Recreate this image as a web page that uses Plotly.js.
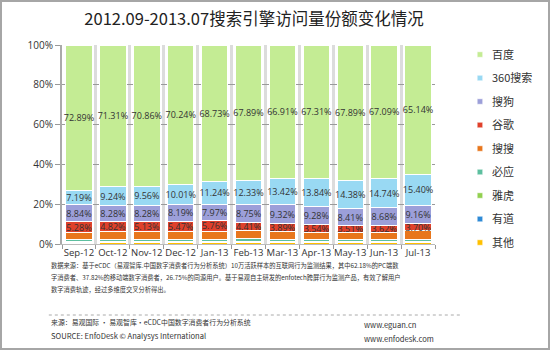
<!DOCTYPE html>
<html><head><meta charset="utf-8">
<script src="https://cdn.plot.ly/plotly-3.0.1.min.js"></script>
<style>
body{margin:0;padding:0;background:#fff;}
#wrap{position:relative;width:550px;height:350px;}
#chart{width:550px;height:350px;}
#frame{position:absolute;left:0;top:0;width:550px;height:350px;box-sizing:border-box;border:2px solid #a6a6a6;pointer-events:none;}
</style></head>
<body><div id="wrap"><div id="chart"></div><div id="frame"></div></div>
<script>
const months = ["Sep-12","Oct-12","Nov-12","Dec-12","Jan-13","Feb-13","Mar-13","Apr-13","May-13","Jun-13","Jul-13"];
const baidu  = [72.89,71.31,70.86,70.24,68.73,67.89,66.91,67.31,67.89,67.09,65.14];
const so360  = [7.19,9.24,9.56,10.01,11.24,12.33,13.42,13.84,14.38,14.74,15.40];
const sogou  = [8.84,8.28,8.28,8.19,7.97,8.75,9.32,9.28,8.41,8.68,9.16];
const google = [5.28,4.82,5.13,5.47,5.76,4.41,3.89,3.54,3.51,3.62,3.70];
const soso   = [3.6,3.9,3.8,3.8,3.9,4.0,4.0,3.8,3.5,3.6,4.2];
const bing   = [1.0,1.1,1.1,1.0,1.1,1.2,1.1,1.0,1.2,1.1,1.1];
const yahoo  = [0.4,0.4,0.4,0.4,0.4,0.4,0.4,0.4,0.3,0.3,0.4];
const youdao = [0.3,0.3,0.3,0.3,0.3,0.3,0.3,0.3,0.3,0.3,0.3];
const other  = [0.5,0.65,0.57,0.59,0.6,0.72,0.66,0.53,0.51,0.56,0.6];

const series = [
  {name:"其他", y:other, color:"#ffc000", label:false},
  {name:"有道", y:youdao, color:"#2e8ad6", label:false},
  {name:"雅虎", y:yahoo, color:"#92d050", label:false},
  {name:"必应", y:bing, color:"#5dbf9f", label:false},
  {name:"搜搜", y:soso, color:"#e8761c", label:false},
  {name:"谷歌", y:google, color:"#e0412b", label:true},
  {name:"搜狗", y:sogou, color:"#9c9fd9", label:true},
  {name:"360搜索", y:so360, color:"#99d9f3", label:true},
  {name:"百度", y:baidu, color:"#c4ec94", label:true}
];
const FONT = "'Noto Sans CJK SC', 'Noto Sans', sans-serif";
const n = series.length;
const traces = series.map((s,i)=>{
  const t = {
    type:"bar", x:months, y:s.y, name:s.name, legendgroup:"g"+i, legendrank:n-i,
    marker:{color:s.color, line:{color:"#ffffff", width:1}},
    hoverinfo:"skip"
  };
  if (s.label) {
    t.text = s.y.map(v=>v.toFixed(2)+"%");
    t.textposition = "inside";
    t.insidetextanchor = "middle";
    t.textangle = 0;
    t.textfont = {family:"'Open Sans', sans-serif", size:9, color:"#333"};
  } else {
    t.textposition = "none";
  }
  return t;
});

const L=62, R=458, T=45, B=244;
const px = x => (x-L)/(R-L);
const py = y => (B-y)/(B-T);
const foot0 = {family:FONT, size:6.25, color:"#333"};
const foot = {family:FONT, size:6.9, color:"#333"};
const foot2 = {family:FONT, size:7.6, color:"#333"};
const annotations = [
  {text:"数据来源：基于eCDC（易观智库.中国数字消费者行为分析系统）10万活跃样本的互联网行为监测结果，其中62.18%的PC端数", x:px(48), y:py(265), font:foot0},
  {text:"字消费者、37.82%的移动端数字消费者，26.75%的同源用户。基于易观自主研发的enfotech跨屏行为监测产品，有效了解用户", x:px(48), y:py(277), font:foot0},
  {text:"数字消费轨迹，经过多维度交叉分析得出。", x:px(48), y:py(289), font:foot0},
  {text:"来源：易观国际 · 易观智库·eCDC中国数字消费者行为分析系统", x:px(48), y:py(322), font:foot},
  {text:"SOURCE: EnfoDesk © Analysys International", x:px(48), y:py(335), font:foot2},
  {text:"www.eguan.cn", x:px(380), y:py(324), font:foot2},
  {text:"www.enfodesk.com", x:px(380), y:py(338), font:foot2}
].map(a=>Object.assign({xref:"paper", yref:"paper", xanchor:"left", yanchor:"middle", showarrow:false}, a));

const layout = {
  width:550, height:350,
  margin:{l:L, r:550-R, t:T, b:350-B},
  paper_bgcolor:"#fff", plot_bgcolor:"#fff",
  barmode:"stack", bargap:0.22,
  showlegend:true,
  title:{text:"2012.09-2013.07搜索引擎访问量份额变化情况", font:{family:FONT, size:16.5, color:"#222"}, x:254/550, xanchor:"center", y:1-19/350, yanchor:"middle"},
  uniformtext:{minsize:9, mode:"show"},
  xaxis:{type:"category", tickson:"boundaries", ticks:"outside", ticklen:4, tickcolor:"#999", tickangle:0,
    showline:true, linecolor:"#bbb", linewidth:1, showgrid:true, gridcolor:"#dcdcdc", gridwidth:3,
    tickfont:{family:"'Open Sans', sans-serif", size:9.5, color:"#333"}, fixedrange:true},
  yaxis:{range:[0,100], dtick:20, ticksuffix:"%", ticks:"outside", ticklen:5, tickcolor:"#999",
    showline:true, linecolor:"#aaa", linewidth:2, showgrid:true, gridcolor:"#9a9a9a", gridwidth:1,
    zeroline:false, tickfont:{family:"'Open Sans', sans-serif", size:10, color:"#333"}, fixedrange:true},
  legend:{x:px(476), y:1.025, xanchor:"left", yanchor:"top", traceorder:"grouped", tracegroupgap:4.5, maxheight:340,
    font:{family:FONT, size:11, color:"#333"}, bgcolor:"rgba(0,0,0,0)"},
  annotations:annotations,
  shapes:[{type:"line", xref:"paper", yref:"paper", x0:px(48), x1:px(486), y0:py(315), y1:py(315), line:{color:"#aaa", width:1, dash:"dot"}}]
};
Plotly.newPlot("chart", traces, layout, {displayModeBar:false, staticPlot:true}).then(gd=>{
  gd.querySelectorAll(".legend .legendpoints path").forEach(p=>{
    const tr = p.getAttribute("transform") || "";
    p.setAttribute("transform", tr + " translate(8,0) scale(0.45)");
  });
});
</script></body></html>
